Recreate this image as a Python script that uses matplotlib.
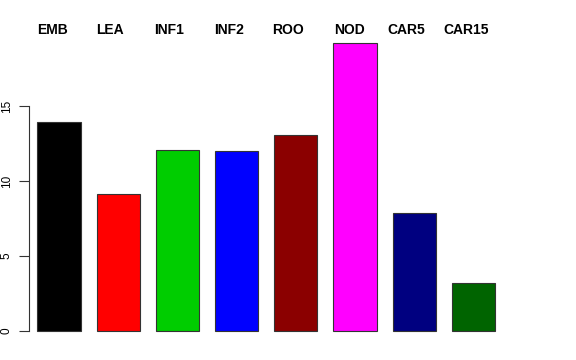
import matplotlib
matplotlib.use("Agg")
import matplotlib.pyplot as plt

plt.rcParams['font.family'] = ['Liberation Sans', 'DejaVu Sans']

categories = ["EMB", "LEA", "INF1", "INF2", "ROO", "NOD", "CAR5", "CAR15"]
values = [13.9, 9.1, 12.05, 11.98, 13.07, 19.18, 7.84, 3.18]
colors = ["#000000", "#FF0000", "#00CD00", "#0000FF", "#8B0000", "#FF00FF", "#000080", "#006400"]
yticks = [0, 5, 10, 15]
# label left edges in pixels (layout)
label_px = [36.7, 96, 154, 214.3, 272, 334, 387.3, 443.3]

W, H = 576, 360
fig = plt.figure(figsize=(W/100, H/100), dpi=100)
left_px, right_px, bottom_px, top_px = 29.3, 530, 331, 43
ax = fig.add_axes([left_px/W, 1 - bottom_px/H, (right_px-left_px)/W, (bottom_px-top_px)/H])

x = list(range(len(categories)))
ax.bar(x, values, width=0.733, color=colors, edgecolor="#333333", linewidth=0.8, clip_on=False)

ax.set_xlim((left_px-59)/59.2, (right_px-59)/59.2)
ax.set_ylim(0, (bottom_px-top_px)/15)

for s in ["top", "right", "bottom"]:
    ax.spines[s].set_visible(False)
ax.spines["left"].set_bounds(0, 15)
ax.spines["left"].set_linewidth(0.8)
ax.spines["left"].set_color("#333333")
ax.set_xticks([])
ax.set_yticks(yticks)
ax.set_yticklabels([str(t) for t in yticks], rotation=90, va="center", fontsize=8.5)
ax.tick_params(axis="y", length=7, width=0.8, color="#333333", pad=5)

for lab, px in zip(categories, label_px):
    fig.text(px/W, 1 - 29.5/H, lab, ha="left", va="center", fontsize=10, fontweight="bold")

fig.savefig("out.png", dpi=100)
